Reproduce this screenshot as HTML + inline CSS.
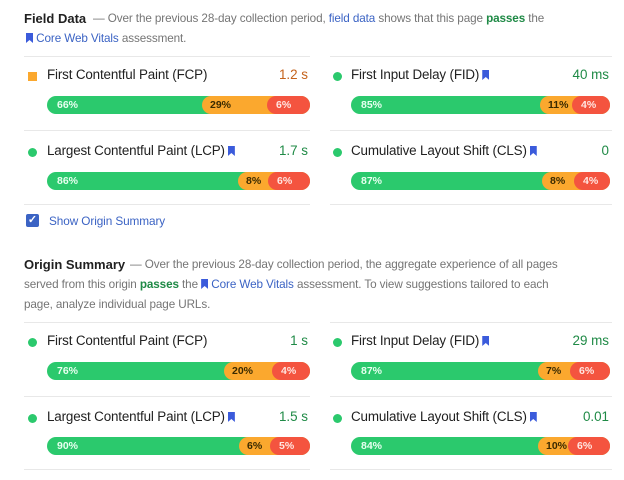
<!DOCTYPE html>
<html><head><meta charset="utf-8"><style>
*{margin:0;padding:0;box-sizing:border-box}
body{width:624px;height:480px;background:#fff;position:relative;overflow:hidden;font-family:"Liberation Sans",Arial,sans-serif;}
.a{position:absolute;white-space:nowrap}
.t{font-size:11.7px;color:#757575;letter-spacing:-0.1px}
.h{font-size:13px;font-weight:bold;color:#212121}
.lbl{font-size:13.4px;color:#212121;letter-spacing:-0.15px}
.val{font-size:13.4px;text-align:right}
.div{position:absolute;height:1px;background:#e8e8e8}
.bar{position:absolute;height:18px}
.bar div{position:absolute;top:0;height:18px;border-radius:9px;font-size:10.5px;font-weight:bold;line-height:18px;padding-left:10px}
.g{background:#2bc96d;color:#e8fff0;left:0;right:0}
.o{background:#fba82e;color:#3a2a00;right:0;padding-left:8px!important}
.r{background:#f4543f;color:#ffe6e2;right:0;padding-left:9px!important}
.dot{position:absolute;width:9px;height:9px;border-radius:50%;background:#2bc96d}
.bm{display:inline-block;width:7px;height:10px;background:#3b5bdb;clip-path:polygon(0 0,100% 0,100% 100%,50% 70%,0 100%);vertical-align:-1px;margin-left:3px}
.blue{color:#3b63c4}.grn{color:#1f8a46;font-weight:bold}
</style></head><body>
<div class="a h" style="left:24px;top:11px">Field Data</div>
<div class="a t" style="left:93px;top:12px">— Over the previous 28-day collection period, <span class="blue">field data</span> shows that this page <span class="grn">passes</span> the</div>
<div class="a t" style="left:26px;top:32px"><span class="bm" style="margin-left:0"></span> <span class="blue">Core Web Vitals</span> assessment.</div>
<div class="div" style="left:24px;width:286px;top:56px"></div>
<div class="div" style="left:330px;width:282px;top:56px"></div>

<div class="a" style="left:28px;top:72px;width:9px;height:9px;background:#fba82e"></div>
<div class="a lbl" style="left:47px;top:67px">First Contentful Paint (FCP)</div>
<div class="a val" style="left:230px;width:78px;top:67px;color:#c4621b">1.2 s</div>
<div class="bar" style="left:47px;width:263px;top:96px"><div class="g">66%</div><div class="o" style="left:155px">29%</div><div class="r" style="left:220px">6%</div></div>
<div class="dot" style="left:333px;top:72px"></div>
<div class="a lbl" style="left:351px;top:67px">First Input Delay (FID)<span class="bm"></span></div>
<div class="a val" style="left:530px;width:79px;top:67px;color:#1f8a46">40 ms</div>
<div class="bar" style="left:351px;width:259px;top:96px"><div class="g">85%</div><div class="o" style="left:189px">11%</div><div class="r" style="left:221px">4%</div></div>
<div class="div" style="left:24px;width:286px;top:130px"></div>
<div class="div" style="left:330px;width:282px;top:130px"></div>
<div class="dot" style="left:28px;top:148px"></div>
<div class="a lbl" style="left:47px;top:143px">Largest Contentful Paint (LCP)<span class="bm"></span></div>
<div class="a val" style="left:230px;width:78px;top:143px;color:#1f8a46">1.7 s</div>
<div class="bar" style="left:47px;width:263px;top:172px"><div class="g">86%</div><div class="o" style="left:191px">8%</div><div class="r" style="left:221px">6%</div></div>
<div class="dot" style="left:333px;top:148px"></div>
<div class="a lbl" style="left:351px;top:143px">Cumulative Layout Shift (CLS)<span class="bm"></span></div>
<div class="a val" style="left:530px;width:79px;top:143px;color:#1f8a46">0</div>
<div class="bar" style="left:351px;width:259px;top:172px"><div class="g">87%</div><div class="o" style="left:191px">8%</div><div class="r" style="left:223px">4%</div></div>
<div class="div" style="left:24px;width:286px;top:204px"></div>
<div class="div" style="left:330px;width:282px;top:204px"></div>

<div class="a" style="left:26px;top:214px;width:13px;height:13px;background:#3b63c4;border-radius:2px;color:#fff;font-size:11px;line-height:13px;text-align:center;font-weight:bold">✓</div>
<div class="a t blue" style="left:49px;top:214px;font-size:11.8px">Show Origin Summary</div>

<div class="a h" style="left:24px;top:257px">Origin Summary</div>
<div class="a t" style="left:130px;top:258px">— Over the previous 28-day collection period, the aggregate experience of all pages</div>
<div class="a t" style="left:24px;top:278px">served from this origin <span class="grn">passes</span> the <span class="bm" style="margin-left:0"></span> <span class="blue">Core Web Vitals</span> assessment. To view suggestions tailored to each</div>
<div class="a t" style="left:24px;top:298px">page, analyze individual page URLs.</div>
<div class="div" style="left:24px;width:286px;top:322px"></div>
<div class="div" style="left:330px;width:282px;top:322px"></div>

<div class="dot" style="left:28px;top:338px"></div>
<div class="a lbl" style="left:47px;top:333px">First Contentful Paint (FCP)</div>
<div class="a val" style="left:230px;width:78px;top:333px;color:#1f8a46">1 s</div>
<div class="bar" style="left:47px;width:263px;top:362px"><div class="g">76%</div><div class="o" style="left:177px">20%</div><div class="r" style="left:225px">4%</div></div>
<div class="dot" style="left:333px;top:338px"></div>
<div class="a lbl" style="left:351px;top:333px">First Input Delay (FID)<span class="bm"></span></div>
<div class="a val" style="left:530px;width:79px;top:333px;color:#1f8a46">29 ms</div>
<div class="bar" style="left:351px;width:259px;top:362px"><div class="g">87%</div><div class="o" style="left:187px">7%</div><div class="r" style="left:219px">6%</div></div>
<div class="div" style="left:24px;width:286px;top:396px"></div>
<div class="div" style="left:330px;width:282px;top:396px"></div>

<div class="dot" style="left:28px;top:414px"></div>
<div class="a lbl" style="left:47px;top:409px">Largest Contentful Paint (LCP)<span class="bm"></span></div>
<div class="a val" style="left:230px;width:78px;top:409px;color:#1f8a46">1.5 s</div>
<div class="bar" style="left:47px;width:263px;top:437px"><div class="g">90%</div><div class="o" style="left:192px">6%</div><div class="r" style="left:223px">5%</div></div>
<div class="dot" style="left:333px;top:414px"></div>
<div class="a lbl" style="left:351px;top:409px">Cumulative Layout Shift (CLS)<span class="bm"></span></div>
<div class="a val" style="left:530px;width:79px;top:409px;color:#1f8a46">0.01</div>
<div class="bar" style="left:351px;width:259px;top:437px"><div class="g">84%</div><div class="o" style="left:187px">10%</div><div class="r" style="left:217px">6%</div></div>
<div class="div" style="left:24px;width:286px;top:469px"></div>
<div class="div" style="left:330px;width:282px;top:469px"></div>
</body></html>
